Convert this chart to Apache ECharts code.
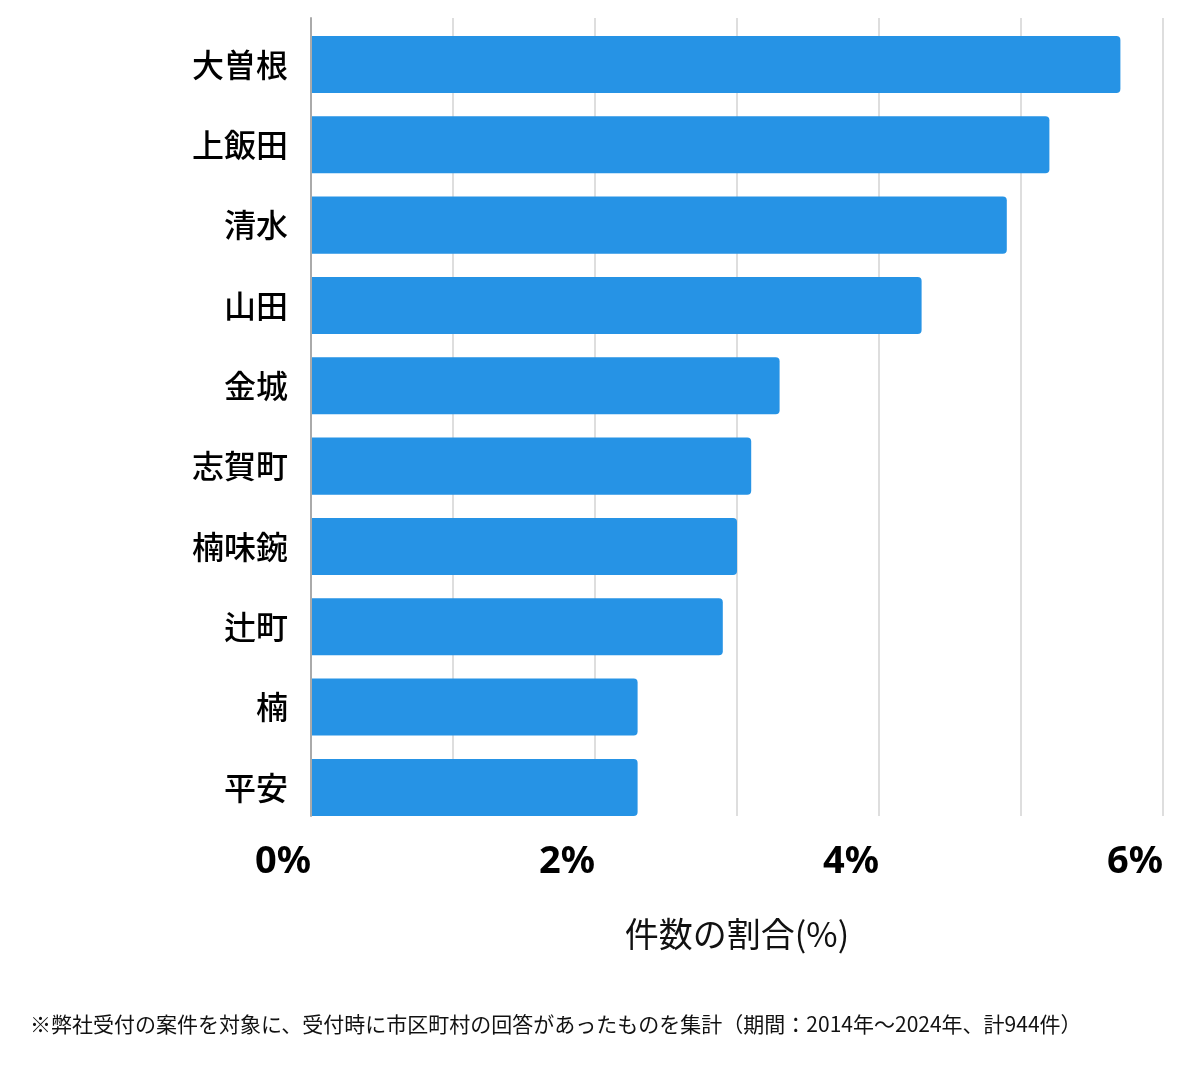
<!DOCTYPE html>
<html>
<head>
<meta charset="utf-8">
<script src="https://cdn.jsdelivr.net/npm/echarts@6/dist/echarts.min.js"></script>
<style>
  html, body { margin: 0; padding: 0; background: #fff; }
  #chart { width: 1200px; height: 1069px; }
</style>
</head>
<body>
<div id="chart"></div>
<script>
// 地区名（上から順）
var areas = ["大曽根", "上飯田", "清水", "山田", "金城", "志賀町", "楠味鋺", "辻町", "楠", "平安"];
// 件数の割合（%）
var shares = [5.7, 5.2, 4.9, 4.3, 3.3, 3.1, 3.0, 2.9, 2.3, 2.3];
// 目盛り
var tickMin = 0;
var tickMax = 6;
var tickStep = 1;
var axisTitle = "件数の割合(%)";
var footnote = "※弊社受付の案件を対象に、受付時に市区町村の回答があったものを集計（期間：2014年～2024年、計944件）";

var cjk = '"Noto Sans CJK JP", "Noto Sans", sans-serif';

var chart = echarts.init(document.getElementById("chart"));

var option = {
  animation: false,
  backgroundColor: "#fff",
  grid: [
    // 棒グラフ用
    { left: 311, right: 37, top: 24.3, height: 803.3 },
    // 目盛り線・軸線用
    { left: 311, right: 37, top: 18, height: 798 }
  ],
  xAxis: [
    {
      gridIndex: 0,
      type: "value",
      min: tickMin,
      max: tickMax,
      interval: tickStep,
      show: false
    },
    {
      gridIndex: 1,
      type: "value",
      min: tickMin,
      max: tickMax,
      interval: tickStep,
      axisLine: { show: false },
      axisTick: { show: false },
      splitLine: { show: true, lineStyle: { color: "#dedede", width: 2 } },
      axisLabel: {
        margin: 27,
        align: "right",
        fontFamily: '"Noto Sans", sans-serif',
        fontWeight: "bold",
        fontSize: 38,
        color: "#000"
        ,
        formatter: function (v) {
          return v % 2 === 0 ? v + "%" : "";
        }
      },
      name: axisTitle,
      nameLocation: "middle",
      nameGap: 101,
      nameTextStyle: { fontFamily: cjk, fontSize: 34, color: "#111" }
    }
  ],
  yAxis: [
    {
      gridIndex: 0,
      type: "category",
      data: areas,
      inverse: true,
      axisLine: { show: false },
      axisTick: { show: false },
      splitLine: { show: false },
      axisLabel: {
        margin: 23,
        fontFamily: cjk,
        fontWeight: 500,
        fontSize: 32,
        color: "#000"
      }
    },
    {
      gridIndex: 1,
      type: "value",
      min: 0,
      max: 1,
      z: 5,
      axisLine: { show: true, lineStyle: { color: "#aaaaaa", width: 2 } },
      axisTick: { show: false },
      axisLabel: { show: false },
      splitLine: { show: false }
    }
  ],
  series: [
    {
      type: "bar",
      xAxisIndex: 0,
      yAxisIndex: 0,
      data: shares,
      barCategoryGap: "29%",
      itemStyle: {
        color: "#2693e5",
        borderRadius: [0, 4, 4, 0]
      }
    }
  ],
  graphic: [
    {
      type: "text",
      left: 30,
      top: 1014,
      style: {
        text: footnote,
        font: '21px "Noto Sans CJK JP", sans-serif',
        fill: "#111"
      }
    }
  ]
};

chart.setOption(option);
</script>
</body>
</html>
